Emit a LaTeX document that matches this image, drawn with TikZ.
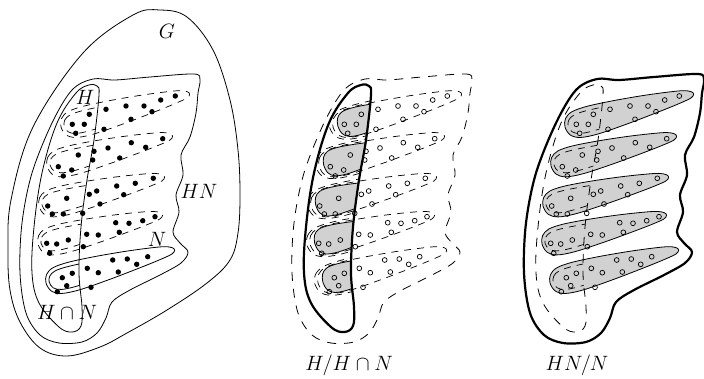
\documentclass[tikz,border=0pt]{standalone}
\newcommand\Gpath{plot[smooth cycle, tension=0.6] coordinates {(133,15) (160,10) (187,17) (213,50) (230,100) (238,150) (240,195) (238,233) (230,260) (207,283) (167,310) (127,333) (100,347) (67,356) (40,348) (20,322) (10,290) (8,250) (11,200) (33,127) (83,53)}}
\newcommand\HNpath{plot[smooth cycle, tension=0.55] coordinates {(150,77) (194,74) (200,80) (198,93) (196,113) (190,137) (181,155) (183,175) (176,195) (179,212) (173,232) (180,243) (188,252) (181,263) (160,275) (130,290) (112,302) (106,318) (97,333) (82,342) (59,343) (40,335) (26,313) (20,273) (22,223) (32,173) (52,123) (72,90) (93,79) (115,80)}}
\newcommand\Hpath{plot[smooth cycle, tension=0.6] coordinates {(89,85) (97,86) (99,95) (94,140) (87,180) (81,227) (79,273) (82,307) (81,326) (72,332) (59,327) (39,303) (32,273) (34,227) (42,173) (57,123) (76,93)}}
\newcommand\Fpath{plot[smooth cycle, tension=0.55] coordinates {(0,0) (2.5,-8) (10,-13) (25,-14.5) (50,-13.5) (80,-11) (105,-8) (120,-5.5) (127,-2.5) (128.5,0.5) (125,3.5) (112,6) (90,9) (60,12.5) (30,15) (12,14) (3,9)}}
\newcommand\fingerlist{61/127/14.5/132.2, 47/166/13.5/128.5, 39/206/13.1/128.3, 38/244/13.2/127.3, 46/283/14.5/132.2}
\newcommand\dotlist{89.3/114.3, 72.3/124.3, 84.3/124.3, 75.7/133.3, 106/109.3, 126/106, 144/106, 152/111.7, 160.7/100, 175.3/96, 131/119.3, 104/129.3,
78.3/155, 58.3/166.7, 71.7/170, 63.3/176, 94/151.3, 108/148, 92.7/160, 119.7/158, 131.3/142.7, 145.7/147.3, 162.7/138.7,
66.7/198.3, 47.7/206, 52.3/214, 63.3/214, 89.3/194.3, 96.7/191, 100/204, 116.7/186, 135.3/183.3, 123.7/194.7, 153.3/178.3, 82.7/213.3,
68.3/240, 46.7/243.3, 56.7/244, 49.7/253.3, 86.7/234.3, 98.3/235, 119.3/232.3, 115.7/222.7, 129/223.3, 142.7/220.7, 155/216.7, 83.3/246.7,
62.3/277.7, 72.3/273.3, 57.3/291.7, 66.7/285.7, 87.3/268.3, 98.3/272.7, 118.3/272, 112.7/260, 127.3/259, 136.7/264.3, 147.7/256.7, 91/287.3}
\begin{document}
\begin{tikzpicture}[x=1pt,y=-1pt,
  thinln/.style={line width=0.8pt},
  thickln/.style={line width=2.2pt},
  cosetdash/.style={line width=0.7pt, dash pattern=on 7pt off 6pt},
  bigdash/.style={line width=0.8pt, dash pattern=on 9pt off 8pt},
  grayfill/.style={fill=black!18},
  opendot/.style={draw=black, line width=0.7pt},
  lbl/.style={inner sep=0pt, font=\fontsize{20.74}{24}\selectfont},
  biglbl/.style={inner sep=0pt, anchor=base, font=\fontsize{20.74}{24}\selectfont}]
\useasboundingbox (0,0) rectangle (704,378);

% ---------------- figure 1 ----------------
\draw[thinln] \Gpath;
\draw[thinln] \HNpath;
\draw[thinln] \Hpath;
\foreach \lx/\ly/\an/\ln [count=\i] in \fingerlist {
  \ifnum\i<5 \def\st{cosetdash}\else\def\st{thinln}\fi
  \begin{scope}[shift={(\lx,\ly)}, rotate=\an, xscale=\ln/128]
    \draw[style=\st] \Fpath;
  \end{scope}
}
\begin{scope}
  \clip \Hpath;
  \foreach \lx/\ly/\an/\ln [count=\i] in \fingerlist {
    \ifnum\i<5 \def\st{cosetdash}\else\def\st{thinln}\fi
    \begin{scope}[shift={(\lx,\ly)}, rotate=\an, xscale=\ln/128, shift={(16,0)}, xscale=0.8, yscale=0.72, shift={(-16,0)}]
      \draw[style=\st] \Fpath;
    \end{scope}
  }
\end{scope}
\foreach \a/\b in \dotlist { \fill (\a,\b) circle[radius=2.7pt]; }
\node[lbl] (lG) at (167,31) {$G$};
\node[lbl] (lH) at (85,97) {$H$};
\node[lbl] (lHN) at (199,191) {$HN$};
\node[lbl] (lN) at (157,239) {$N$};
\node[lbl] (lHcapN) at (67,312) {$H\cap N$};

% ---------------- figure 2 ----------------
\begin{scope}[shift={(272,0)}]
  \begin{scope}
    \clip \Hpath;
    \foreach \lx/\ly/\an/\ln in \fingerlist {
      \begin{scope}[shift={(\lx,\ly)}, rotate=\an, xscale=\ln/128, shift={(16,0)}, xscale=0.7, yscale=0.95, shift={(-16,0)}]
        \fill[grayfill] \Fpath;
        \draw[thinln] \Fpath;
      \end{scope}
      \begin{scope}[shift={(\lx,\ly)}, rotate=\an, xscale=\ln/128, shift={(16,0)}, xscale=1.2, yscale=1.12, shift={(-16,0)}]
        \draw[cosetdash] \Fpath;
      \end{scope}
    }
  \end{scope}
  \foreach \lx/\ly/\an/\ln in \fingerlist {
    \begin{scope}[shift={(\lx,\ly)}, rotate=\an, xscale=\ln/128]
      \draw[cosetdash] \Fpath;
    \end{scope}
  }
  \draw[thickln] \Hpath;
  \draw[bigdash] \HNpath;
  \foreach \a/\b in \dotlist { \draw[opendot] (\a,\b) circle[radius=2.4pt]; }
\end{scope}
\node[biglbl] (lq1) at (349,370) {$H/H\cap N$};

% ---------------- figure 3 ----------------
\begin{scope}[shift={(504,0)}]
  \foreach \lx/\ly/\an/\ln in \fingerlist {
    \begin{scope}[shift={(\lx,\ly)}, rotate=\an, xscale=\ln/128]
      \fill[grayfill] \Fpath;
      \draw[thinln] \Fpath;
    \end{scope}
  }
  \begin{scope}
    \clip \Hpath;
    \foreach \lx/\ly/\an/\ln in \fingerlist {
      \begin{scope}[shift={(\lx,\ly)}, rotate=\an, xscale=\ln/128, shift={(16,0)}, xscale=0.8, yscale=0.72, shift={(-16,0)}]
        \draw[cosetdash] \Fpath;
      \end{scope}
    }
  \end{scope}
  \draw[bigdash] \Hpath;
  \draw[thickln] \HNpath;
  \foreach \a/\b in \dotlist { \draw[opendot] (\a,\b) circle[radius=2.4pt]; }
\end{scope}
\node[biglbl] (lq2) at (577,370) {$HN/N$};
\end{tikzpicture}
\end{document}
